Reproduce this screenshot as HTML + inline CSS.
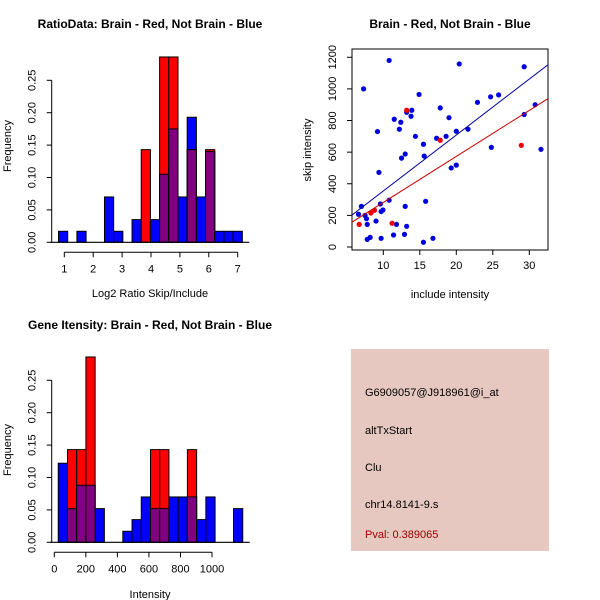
<!DOCTYPE html>
<html><head><meta charset="utf-8"><style>
body{margin:0;background:#fff}
svg{display:block;font-family:"Liberation Sans",sans-serif}
</style></head><body>
<svg id="c" width="600" height="600">
<rect width="600" height="600" fill="#fff"/>
<rect x="351" y="349" width="198" height="202" fill="#e6c8c0"/>
<text x="365" y="396" font-size="11">G6909057@J918961@i_at</text>
<text x="365" y="434" font-size="11">altTxStart</text>
<text x="365" y="471" font-size="11">Clu</text>
<text x="365" y="508" font-size="11">chr14.8141-9.s</text>
<text x="365" y="538" font-size="11" fill="#a00000">Pval: 0.389065</text>
</svg>
<script>
// Ratio histogram data
const ratioBinStart = 0.8, ratioBinWidth = 0.318;
const ratioBlue = [0.017,0,0.017,0,0,0.07,0.017,0,0.035,0,0.035,0.105,0.175,0.07,0.193,0.07,0.14,0.017,0.017,0.017];
const ratioRed  = [0,0,0,0,0,0,0,0,0,0.143,0,0.286,0.286,0,0.143,0,0.143,0,0,0];
const ratioXTicks = [1,2,3,4,5,6,7];
const freqTicks = ["0.00","0.05","0.10","0.15","0.20","0.25"];
// Intensity histogram data
const intBinStart = 25, intBinWidth = 58.5;
const intBlue = [0.122,0.052,0.088,0.088,0.052,0,0,0.017,0.035,0.07,0.052,0.052,0.07,0.07,0.07,0.035,0.07,0,0,0.052];
const intRed  = [0,0.143,0.143,0.286,0,0,0,0,0,0,0.143,0.143,0,0,0.143,0,0,0,0,0];
const intXTicks = [0,200,400,600,800,1000];
// Scatter data
const blueX = [6.6,7.0,7.3,7.5,7.7,7.8,7.8,8.2,9.0,9.2,9.4,9.6,9.7,9.95,9.7,10.8,10.8,11.4,11.5,11.8,12.2,12.4,12.5,13.0,13.0,13.2,12.9,13.2,13.8,13.9,14.4,14.9,15.5,15.6,15.8,15.5,16.8,17.3,17.8,18.6,19.0,19.3,20.0,20.0,20.4,21.6,22.9,24.7,24.8,25.8,29.3,29.3,30.8,31.6];
const blueY = [207,257,1000,200,179,143,48,61,164,730,472,272,224,234,55,1180,296,76,808,143,745,789,562,588,257,131,80,852,827,865,700,965,650,575,289,30,55,688,880,700,818,500,732,518,1158,745,915,950,630,962,1140,838,900,618];
const redX = [6.7,8.3,8.8,11.2,13.2,17.8,28.9];
const redY = [143,215,232,150,865,675,643];
const blueFit = [0, 35.4];   // intercept, slope
const redFit = [-9, 29.1];
const scatterXTicks = [10,15,20,25,30];
const scatterYTicks = [0,200,400,600,800,1000,1200];

const svg = document.getElementById('c');
const NS = 'http://www.w3.org/2000/svg';
function mk(tag, attrs, parent){const e=document.createElementNS(NS,tag);for(const k in attrs)e.setAttribute(k,attrs[k]);(parent||svg).appendChild(e);return e;}
function txt(x,y,s,size,extra){const t=mk('text',Object.assign({x:x,y:y,'font-size':size||11,'text-anchor':'middle'},extra||{}));t.textContent=s;return t;}

function hist(o){
  const g=mk('g',{});
  
  
  const X=v=>o.x0+(v-o.xv0)*o.xs, Y=v=>o.y0-v*o.ys;
  for(let i=0;i<o.blue.length;i++){
    const a=X(o.bs+i*o.bw), b=X(o.bs+(i+1)*o.bw), bl=o.blue[i], rd=o.red[i];
    if(bl>0){const r=mk('rect',{x:a,y:Y(bl),width:b-a,height:Y(0)-Y(bl),fill:'#0000ff',stroke:'#000','stroke-width':1},g);
      
      }
    if(rd>0){const r=mk('rect',{x:a,y:Y(rd),width:b-a,height:Y(0)-Y(rd),fill:'#ff0000',stroke:'#000','stroke-width':1},g);
      
      }
    const m=Math.min(bl,rd);
    if(m>0){const r=mk('rect',{x:a,y:Y(m),width:b-a,height:Y(0)-Y(m),fill:'#800080',stroke:'#000','stroke-width':1},g);
      
      }
  }
  mk('line',{x1:X(o.bs)-8,x2:X(o.bs+o.blue.length*o.bw)+7,y1:Y(0),y2:Y(0),stroke:'#000','stroke-width':1.2});
  mk('line',{x1:o.yax,x2:o.yax,y1:Y(0),y2:Y(0.25),stroke:'#000'});
  freqTicks.forEach(t=>{const y=Y(+t);mk('line',{x1:o.yax-5,x2:o.yax,y1:y,y2:y,stroke:'#000'});
    const l=txt(o.yax-16,y,t,11,{transform:`rotate(-90 ${o.yax-16} ${y})`});
    
    });
  const xa=Y(0)+10;
  mk('line',{x1:X(o.xt[0]),x2:X(o.xt[o.xt.length-1]),y1:xa,y2:xa,stroke:'#000'});
  o.xt.forEach(t=>{mk('line',{x1:X(t),x2:X(t),y1:xa,y2:xa+5,stroke:'#000'});
    const l=txt(X(t),xa+20,String(t),11);
    
    });
  const xl=txt(o.xlx,o.xly,o.xlabel,11);
  
  
  const yl=txt(11,o.yly,'Frequency',11,{transform:`rotate(-90 11 ${o.yly})`});
  
  
  const tt=txt(o.tx,o.ty,o.title,12,{'font-weight':'bold'});
  
  
}
hist({name:'ratio-histogram',blue:ratioBlue,red:ratioRed,bs:ratioBinStart,bw:ratioBinWidth,x0:64.3,xv0:1,xs:28.9,y0:242.3,ys:648,yax:51.7,xt:ratioXTicks,xlabel:'Log2 Ratio Skip/Include',xlx:150,xly:297,yly:146,title:'RatioData: Brain - Red, Not Brain - Blue',tx:150,ty:28});
hist({name:'intensity-histogram',blue:intBlue,red:intRed,bs:intBinStart,bw:intBinWidth,x0:54.3,xv0:0,xs:0.1577,y0:542.3,ys:648,yax:51.7,xt:intXTicks,xlabel:'Intensity',xlx:150,xly:598,yly:450,title:'Gene Itensity: Brain - Red, Not Brain - Blue',tx:150,ty:329});

(function(){
  const g=mk('g',{});
  
  
  const X=v=>383.3+(v-10)*7.3, Y=v=>247-v*0.1581;
  const L=352,R=548,T=49,B=250;
  mk('rect',{x:L,y:T,width:R-L,height:B-T,fill:'none',stroke:'#000'},g);
  const cp=mk('clipPath',{id:'sc'});mk('rect',{x:L,y:T,width:R-L,height:B-T},cp);
  blueX.forEach((x,i)=>{const c=mk('circle',{cx:X(x),cy:Y(blueY[i]),r:2.6,fill:'#0000dd'},g);
    
    });
  redX.forEach((x,i)=>{const c=mk('circle',{cx:X(x),cy:Y(redY[i]),r:2.6,fill:'#ee0000'},g);
    
    });
  const xa=5.6, xb=32.7;
  const bl=mk('line',{x1:X(xa),y1:Y(blueFit[0]+blueFit[1]*xa),x2:X(xb),y2:Y(blueFit[0]+blueFit[1]*xb),stroke:'#000099','clip-path':'url(#sc)'},g);
  
  
  const rl=mk('line',{x1:X(xa),y1:Y(redFit[0]+redFit[1]*xa),x2:X(xb),y2:Y(redFit[0]+redFit[1]*xb),stroke:'#cc0000','clip-path':'url(#sc)'},g);
  
  
  scatterXTicks.forEach(t=>{mk('line',{x1:X(t),x2:X(t),y1:B,y2:B+5,stroke:'#000'});
    const l=txt(X(t),B+19,String(t),11);
    
    });
  scatterYTicks.forEach(t=>{const y=Y(t);mk('line',{x1:L-5,x2:L,y1:y,y2:y,stroke:'#000'});
    const l=txt(L-16,y,String(t),11,{transform:`rotate(-90 ${L-16} ${y})`});
    
    });
  const xl=txt(450,298,'include intensity',11);
  
  
  const yl=txt(311,150,'skip intensity',11,{transform:'rotate(-90 311 150)'});
  
  
  const tt=txt(450,28,'Brain - Red, Not Brain - Blue',12,{'font-weight':'bold'});
  
  
})();
</script>
</body></html>
